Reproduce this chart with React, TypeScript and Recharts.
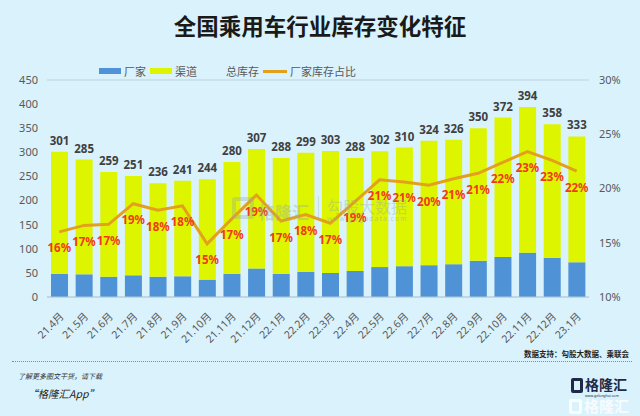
import React from 'react';
import {
  ComposedChart, Bar, Line, XAxis, YAxis, CartesianGrid, LabelList, Legend,
} from 'recharts';

const months = ['21.4月', '21.5月', '21.6月', '21.7月', '21.8月', '21.9月', '21.10月', '21.11月', '21.12月', '22.1月', '22.2月', '22.3月', '22.4月', '22.5月', '22.6月', '22.7月', '22.8月', '22.9月', '22.10月', '22.11月', '22.12月', '23.1月'];
const totalStock = [301, 285, 259, 251, 236, 241, 244, 280, 307, 288, 299, 303, 288, 302, 310, 324, 326, 350, 372, 394, 358, 333];
const makerStock = [48, 47, 42, 45, 42, 43, 36, 48, 59, 48, 52, 50, 54, 62, 64, 66, 68, 75, 83, 92, 81, 72];
const makerShare = [16.0, 16.6, 16.7, 18.6, 18.0, 18.4, 14.9, 17.2, 19.4, 17.0, 17.6, 16.8, 18.8, 20.8, 20.6, 20.3, 20.9, 21.4, 22.4, 23.4, 22.6, 21.6];
const leftTicks = [0, 50, 100, 150, 200, 250, 300, 350, 400, 450];
const rightTicks = [10, 15, 20, 25, 30];

const data = months.map((m, i) => ({
  month: m,
  maker: makerStock[i],
  channel: totalStock[i] - makerStock[i],
  total: totalStock[i],
  share: makerShare[i],
}));

const BG = '#d9f2fc';
const BLUE = '#4f92d5';
const YELLOW = '#def500';
const ORANGE = '#e3a11b';
const RED = '#f03a18';
const FONT = '"Noto Sans", "Noto Sans CJK SC", sans-serif';
const CJK = '"Noto Sans CJK SC", sans-serif';

const XTick = (props: any) => {
  const { x, y, payload } = props;
  return (
    <text
      x={x + 5}
      y={y + 12}
      transform={`rotate(-45, ${x + 5}, ${y + 12})`}
      textAnchor="end"
      fontSize={10.5}
      fill="#595959"
      fontFamily={FONT}
    >
      {payload.value}
    </text>
  );
};

const ShareLabel = (props: any) => {
  const { x, y, value } = props;
  return (
    <text
      x={x}
      y={y + 16}
      textAnchor="middle"
      dominantBaseline="central"
      fontSize={11.5}
      fontWeight="bold"
      fill={RED}
      fontFamily={FONT}
    >
      {Math.round(value)}%
    </text>
  );
};

const LegendContent = () => {
  const item: React.CSSProperties = { display: 'flex', alignItems: 'center', marginRight: 4 };
  const txt: React.CSSProperties = { fontSize: 11, color: '#595959', fontFamily: CJK, marginLeft: 3 };
  return (
    <div style={{ display: 'flex', alignItems: 'center', height: 14 }}>
      <div style={item}>
        <span style={{ width: 22, height: 6, background: BLUE, display: 'inline-block' }} />
        <span style={txt}>厂家</span>
      </div>
      <div style={item}>
        <span style={{ width: 22, height: 6, background: YELLOW, display: 'inline-block' }} />
        <span style={txt}>渠道</span>
      </div>
      <div style={item}>
        <span style={{ width: 22, height: 6, display: 'inline-block' }} />
        <span style={txt}>总库存</span>
      </div>
      <div style={item}>
        <span style={{ width: 24, height: 3, background: ORANGE, display: 'inline-block' }} />
        <span style={txt}>厂家库存占比</span>
      </div>
    </div>
  );
};

export default function App() {
  return (
    <div style={{ position: 'fixed', left: 0, top: 0, width: 640, height: 416, background: BG, overflow: 'hidden' }}>
      <div style={{ position: 'absolute', left: 0, top: 8, width: 640, textAlign: 'center', fontSize: 22.5, fontWeight: 'bold', fontFamily: CJK, color: '#1a1a1a', lineHeight: '34px' }}>
        全国乘用车行业库存变化特征
      </div>

      <div style={{ position: 'absolute', left: 0, top: 0 }}>
        <ComposedChart width={640} height={350} data={data} margin={{ top: 66, right: 0, bottom: 0, left: 0 }} barSize={17}>
          <CartesianGrid vertical={false} stroke="#bcd2df" strokeWidth={1} />
          <XAxis
            dataKey="month"
            interval={0}
            height={53}
            tick={<XTick />}
            tickLine={false}
            axisLine={{ stroke: '#b3cad8' }}
          />
          <YAxis
            yAxisId="left"
            domain={[0, 450]}
            ticks={leftTicks}
            width={47}
            axisLine={false}
            tickLine={false}
            tickSize={0}
            tickMargin={9}
            tick={{ fontSize: 11, fill: '#595959', fontFamily: FONT }}
          />
          <YAxis
            yAxisId="right"
            orientation="right"
            domain={[10, 30]}
            ticks={rightTicks}
            width={51}
            axisLine={false}
            tickLine={false}
            tickSize={0}
            tickMargin={10}
            tickFormatter={(v: number) => `${v}%`}
            tick={{ fontSize: 11, fill: '#595959', fontFamily: FONT }}
          />
          <Legend
            verticalAlign="top"
            align="left"
            content={<LegendContent />}
            wrapperStyle={{ position: 'absolute', top: 64, left: 99, width: 300 }}
          />
          <Bar yAxisId="left" dataKey="maker" name="厂家" stackId="s" fill={BLUE} isAnimationActive={false} />
          <Bar yAxisId="left" dataKey="channel" name="渠道" stackId="s" fill={YELLOW} isAnimationActive={false}>
            <LabelList
              dataKey="total"
              position="top"
              offset={7}
              style={{ fontSize: 11.5, fontWeight: 'bold', fill: '#404040', fontFamily: FONT }}
            />
          </Bar>
          <Line
            yAxisId="right"
            dataKey="share"
            name="厂家库存占比"
            stroke={ORANGE}
            strokeWidth={3}
            dot={false}
            activeDot={false}
            isAnimationActive={false}
          >
            <LabelList dataKey="share" content={<ShareLabel />} />
          </Line>
        </ComposedChart>
      </div>

      {/* watermarks */}
      <div style={{ pointerEvents: 'none' }}>
        <div style={{ position: 'absolute', left: 232, top: 197, width: 22, height: 22, border: '4px solid rgba(150,170,170,0.35)', borderRadius: 3, boxSizing: 'border-box' }} />
        <div style={{ position: 'absolute', left: 258, top: 199, fontSize: 17, fontFamily: CJK, color: 'rgba(150,170,170,0.4)', fontWeight: 'bold' }}>格隆汇</div>
        <div style={{ position: 'absolute', left: 318, top: 196, width: 1, height: 24, background: 'rgba(150,170,170,0.3)' }} />
        <div style={{ position: 'absolute', left: 327, top: 194, fontSize: 16, fontFamily: CJK, color: 'rgba(150,170,170,0.4)' }}>勾股大数据</div>
        <div style={{ position: 'absolute', left: 327, top: 214, fontSize: 6.5, letterSpacing: 1.2, fontFamily: FONT, color: 'rgba(150,170,170,0.5)' }}>www.gogudata.com</div>
      </div>

      {/* footer */}
      <div style={{ position: 'absolute', right: 11, top: 348, fontSize: 7.5, fontWeight: 'bold', fontFamily: CJK, color: '#222' }}>数据支持：勾股大数据、乘联会</div>
      <div style={{ position: 'absolute', left: 12, top: 361, width: 620, borderTop: '1px dotted #8a8a8a' }} />
      <div style={{ position: 'absolute', left: 18, top: 371, fontSize: 7, fontStyle: 'italic', fontFamily: CJK, color: '#333' }}>了解更多图文干货，请下载</div>
      <div style={{ position: 'absolute', left: 27, top: 386, fontSize: 10.5, fontStyle: 'italic', fontFamily: CJK, color: '#222' }}>“格隆汇App”</div>

      <div style={{ position: 'absolute', left: 571, top: 378, width: 12, height: 15, border: '3.5px solid #1e2a4a', borderRadius: 2, boxSizing: 'border-box' }} />
      <div style={{ position: 'absolute', left: 585, top: 375, fontSize: 14, fontWeight: 'bold', fontFamily: CJK, color: '#1e2a4a', lineHeight: '18px' }}>格隆汇</div>
      <div style={{ position: 'absolute', left: 585, top: 393, fontSize: 3.5, fontFamily: FONT, color: '#1e2a4a' }}>www.gelonghui.com</div>
      <div style={{ position: 'absolute', left: 584, top: 397, fontSize: 15, fontWeight: 'bold', fontFamily: CJK, color: 'rgba(255,255,255,0.8)', lineHeight: '18px' }}>格隆汇</div>
      <div style={{ position: 'absolute', left: 569, top: 399, width: 13, height: 15, border: '3px solid rgba(255,255,255,0.8)', borderRadius: 2, boxSizing: 'border-box' }} />
    </div>
  );
}
